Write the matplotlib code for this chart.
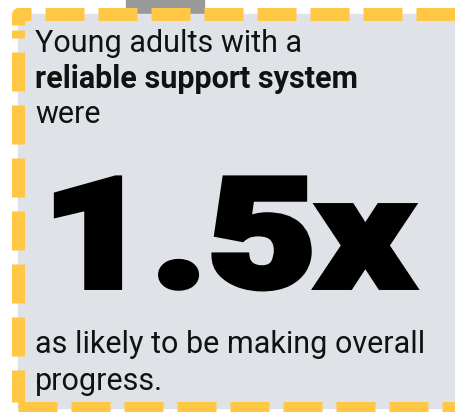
import matplotlib
matplotlib.use("Agg")
import matplotlib.pyplot as plt
import matplotlib.patheffects as pe
from matplotlib.patches import Rectangle
from matplotlib.transforms import Affine2D

# text content
intro_lines = ["Young adults with a", "reliable support system", "were"]
intro_weights = ["normal", "bold", "normal"]
stat_value = "1.5x"
outro_lines = ["as likely to be making overall", "progress."]

# colours
PANEL = "#dfe3e8"
BORDER = "#ffc744"
TAB = "#999999"
INK = "#111111"

W, H = 456, 412
PX = 0.72  # points per pixel at dpi=100

plt.rcParams["lines.scale_dashes"] = False


class WideHeavy(pe.AbstractPathEffect):
    """Stretch glyphs sideways and thicken them with a same-colour stroke."""

    def __init__(self, sx, stroke):
        super().__init__()
        self.sx = sx
        self.stroke = stroke

    def draw_path(self, renderer, gc, tpath, affine, rgbFace):
        aff = Affine2D().scale(self.sx, 1.0) + affine
        gc0 = renderer.new_gc()
        gc0.copy_properties(gc)
        gc0.set_linewidth(self.stroke)
        gc0.set_foreground(rgbFace)
        gc0.set_joinstyle("miter")
        renderer.draw_path(gc0, tpath, aff, rgbFace)
        gc0.restore()


fig = plt.figure(figsize=(W / 100, H / 100), dpi=100)
ax = fig.add_axes([0, 0, 1, 1])
ax.set_xlim(0, W)
ax.set_ylim(H, 0)
ax.axis("off")

# background pieces
ax.add_patch(Rectangle((126, 0), 78, 16, color=TAB, zorder=1))
ax.add_patch(Rectangle((18, 14), 442, 394, color=PANEL, zorder=2))

# dashed border, one line per side so each gets its own phase
lw = 13 * PX
dash = (39 * PX, 14 * PX)


def side(xs, ys, offset_px):
    ax.plot(xs, ys, color=BORDER, lw=lw, solid_capstyle="butt",
            dash_capstyle="butt", linestyle=(offset_px * PX, dash), zorder=3)


side([18, 470], [14, 14], 26)      # top
side([18, 18], [30, 402], 31)      # left
side([18, 470], [408, 408], 0)     # bottom
side([460.5, 460.5], [14, 420], 46)  # right
ax.plot([18, 18, 25], [25, 14, 14], color=BORDER, lw=lw,
        solid_capstyle="butt", solid_joinstyle="round", zorder=3)

# text
for i, (line, weight) in enumerate(zip(intro_lines, intro_weights)):
    ax.text(35, 52 + i * 35.5, line, fontsize=22, family="Roboto",
            fontweight=weight, color=INK, va="baseline", zorder=4)

ax.text(42, 286.5, stat_value, fontsize=109, family="Roboto", fontweight="black",
        color="black", va="baseline", zorder=4,
        path_effects=[WideHeavy(1.24, 5)])

for i, line in enumerate(outro_lines):
    ax.text(35, 353 + i * 37, line, fontsize=22, family="Roboto",
            color=INK, va="baseline", zorder=4)

fig.savefig("out.png", dpi=100)
